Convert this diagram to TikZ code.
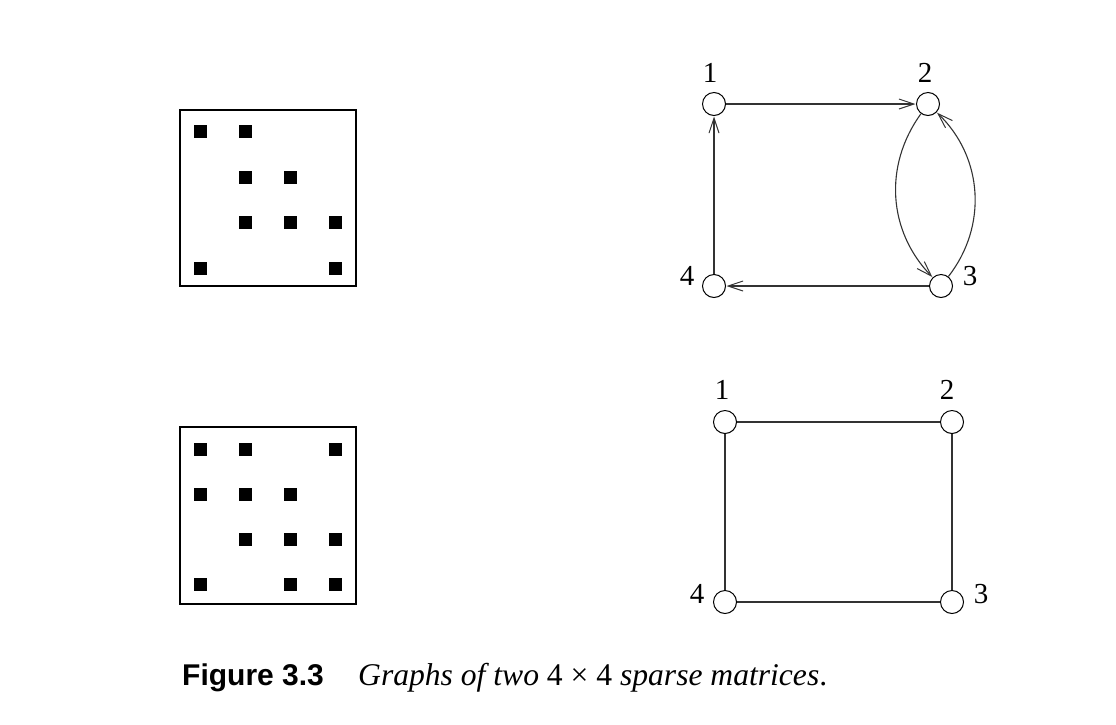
\documentclass[tikz,border=0pt]{standalone}
\usepackage{fontspec}
\setmainfont{Liberation Serif}
\newfontfamily\capsans{Liberation Sans}
\usetikzlibrary{arrows.meta}
\begin{document}
\begin{tikzpicture}[x=1pt,y=-1pt,
  vert/.style={circle,draw,line width=1pt,minimum size=23pt,inner sep=0pt},
  lbl/.style={font=\fontsize{29}{33}\selectfont,inner sep=0pt},
  edge/.style={line width=1.1pt,draw=black!80},
  arr/.style={edge,-{Straight Barb[length=15pt,width=10pt,line width=1pt]},shorten >=0.5pt},
  entry/.style={fill=black,minimum size=13pt,inner sep=0pt,draw=none},
  frame/.style={draw,line width=1.3pt}]
\useasboundingbox (0,0) rectangle (1116,724);
% top matrix
\draw[frame] (180,110) rectangle (356,286);
\foreach \c/\r [count=\i] in {1/1,2/1,2/2,3/2,2/3,3/3,4/3,1/4,4/4}{
  \node[entry] (ta\i) at ({200+45.3*(\c-1)},{131.5+45.5*(\r-1)}) {};
}
% bottom matrix
\draw[frame] (180,427) rectangle (356,604);
\foreach \c/\r [count=\i] in {1/1,2/1,4/1,1/2,2/2,3/2,2/3,3/3,4/3,1/4,3/4,4/4}{
  \node[entry] (ba\i) at ({200+45.3*(\c-1)},{449+45.3*(\r-1)}) {};
}
% top graph
\node[vert] (a1) at (714,104) {};
\node[vert] (a2) at (928,104) {};
\node[vert] (a3) at (941,286) {};
\node[vert] (a4) at (714,286) {};
\node[lbl] (la1) at (710,73) {1};
\node[lbl] (la2) at (925,73) {2};
\node[lbl] (la3) at (970,276) {3};
\node[lbl] (la4) at (687,276) {4};
\draw[arr] (a1) -- (a2);
\draw[arr] (a4) -- (a1);
\draw[arr] (a3) -- (a4);
\draw[arr] (a2) to[bend right=40] (a3);
\draw[arr] (a3) to[bend right=42] (a2);
% bottom graph
\node[vert] (b1) at (725,422) {};
\node[vert] (b2) at (952,422) {};
\node[vert] (b3) at (952,602) {};
\node[vert] (b4) at (725,602) {};
\node[lbl] (lb1) at (722,390) {1};
\node[lbl] (lb2) at (947,390) {2};
\node[lbl] (lb3) at (981,594) {3};
\node[lbl] (lb4) at (697,594) {4};
\draw[edge] (b1) -- (b2);
\draw[edge] (b2) -- (b3);
\draw[edge] (b3) -- (b4);
\draw[edge] (b4) -- (b1);
% caption
\node[anchor=base west,inner sep=0pt,font=\capsans\bfseries\fontsize{30}{34}\selectfont] (capA) at (182,685) {Figure 3.3};
\node[anchor=base west,inner sep=0pt,font=\fontsize{31.6}{36}\selectfont] (capB) at (358,685) {\itshape Graphs of two \upshape 4 × 4 \itshape sparse matrices\upshape .};
\end{tikzpicture}
\end{document}
